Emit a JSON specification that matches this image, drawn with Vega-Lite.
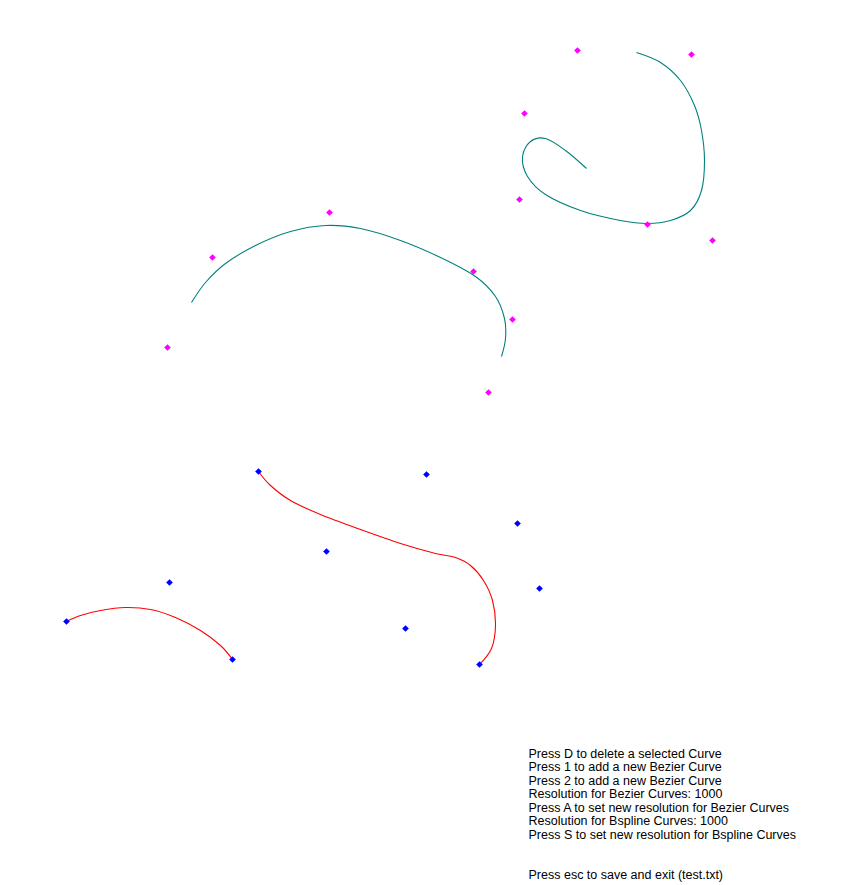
{
  "$schema": "https://vega.github.io/schema/vega-lite/v6.json",
  "autosize": {"type": "fit", "contains": "padding"},
  "width": 845,
  "height": 885,
  "padding": 0,
  "background": "white",
  "config": {"view": {"stroke": null}},
  "datasets": {
    "pts": [
      {"x": 577, "y": 50, "g": "top"}, {"x": 691, "y": 54, "g": "top"}, {"x": 524, "y": 113, "g": "top"},
      {"x": 519, "y": 199, "g": "top"}, {"x": 647, "y": 224, "g": "top"}, {"x": 712, "y": 240, "g": "top"},
      {"x": 329, "y": 212, "g": "top"}, {"x": 212, "y": 257, "g": "top"}, {"x": 473, "y": 271, "g": "top"},
      {"x": 512, "y": 319, "g": "top"}, {"x": 167, "y": 347, "g": "top"}, {"x": 488, "y": 392, "g": "top"},
      {"x": 258, "y": 471, "g": "bot"}, {"x": 426, "y": 474, "g": "bot"}, {"x": 517, "y": 523, "g": "bot"},
      {"x": 326, "y": 551, "g": "bot"}, {"x": 169, "y": 582, "g": "bot"}, {"x": 539, "y": 588, "g": "bot"},
      {"x": 66, "y": 621, "g": "bot"}, {"x": 405, "y": 628, "g": "bot"}, {"x": 232, "y": 659, "g": "bot"},
      {"x": 479, "y": 664, "g": "bot"}
    ],
    "curves": [
      {"c": "t1", "k": "spline", "o": 0, "x": 636, "y": 52}, {"c": "t1", "k": "spline", "o": 1, "x": 660, "y": 62},
      {"c": "t1", "k": "spline", "o": 2, "x": 680, "y": 80}, {"c": "t1", "k": "spline", "o": 3, "x": 694, "y": 105},
      {"c": "t1", "k": "spline", "o": 4, "x": 701, "y": 130}, {"c": "t1", "k": "spline", "o": 5, "x": 704, "y": 160},
      {"c": "t1", "k": "spline", "o": 6, "x": 701, "y": 190}, {"c": "t1", "k": "spline", "o": 7, "x": 690, "y": 210},
      {"c": "t1", "k": "spline", "o": 8, "x": 670, "y": 220}, {"c": "t1", "k": "spline", "o": 9, "x": 647, "y": 223},
      {"c": "t1", "k": "spline", "o": 10, "x": 620, "y": 220}, {"c": "t1", "k": "spline", "o": 11, "x": 580, "y": 210},
      {"c": "t1", "k": "spline", "o": 12, "x": 545, "y": 194}, {"c": "t1", "k": "spline", "o": 13, "x": 527, "y": 176},
      {"c": "t1", "k": "spline", "o": 14, "x": 522, "y": 156}, {"c": "t1", "k": "spline", "o": 15, "x": 530, "y": 141},
      {"c": "t1", "k": "spline", "o": 16, "x": 545, "y": 138}, {"c": "t1", "k": "spline", "o": 17, "x": 565, "y": 150},
      {"c": "t1", "k": "spline", "o": 18, "x": 586, "y": 168},
      {"c": "t2", "k": "spline", "o": 0, "x": 191, "y": 302}, {"c": "t2", "k": "spline", "o": 1, "x": 205, "y": 282},
      {"c": "t2", "k": "spline", "o": 2, "x": 225, "y": 263}, {"c": "t2", "k": "spline", "o": 3, "x": 255, "y": 245},
      {"c": "t2", "k": "spline", "o": 4, "x": 290, "y": 231}, {"c": "t2", "k": "spline", "o": 5, "x": 325, "y": 225},
      {"c": "t2", "k": "spline", "o": 6, "x": 360, "y": 228}, {"c": "t2", "k": "spline", "o": 7, "x": 400, "y": 240},
      {"c": "t2", "k": "spline", "o": 8, "x": 440, "y": 257}, {"c": "t2", "k": "spline", "o": 9, "x": 475, "y": 276},
      {"c": "t2", "k": "spline", "o": 10, "x": 495, "y": 296}, {"c": "t2", "k": "spline", "o": 11, "x": 504, "y": 318},
      {"c": "t2", "k": "spline", "o": 12, "x": 505, "y": 338}, {"c": "t2", "k": "spline", "o": 13, "x": 501, "y": 356},
      {"c": "r1", "k": "bezier", "o": 0, "x": 258, "y": 471}, {"c": "r1", "k": "bezier", "o": 1, "x": 270, "y": 485},
      {"c": "r1", "k": "bezier", "o": 2, "x": 290, "y": 500}, {"c": "r1", "k": "bezier", "o": 3, "x": 320, "y": 514},
      {"c": "r1", "k": "bezier", "o": 4, "x": 360, "y": 529}, {"c": "r1", "k": "bezier", "o": 5, "x": 400, "y": 543},
      {"c": "r1", "k": "bezier", "o": 6, "x": 435, "y": 553}, {"c": "r1", "k": "bezier", "o": 7, "x": 455, "y": 557},
      {"c": "r1", "k": "bezier", "o": 8, "x": 470, "y": 565}, {"c": "r1", "k": "bezier", "o": 9, "x": 483, "y": 580},
      {"c": "r1", "k": "bezier", "o": 10, "x": 492, "y": 600}, {"c": "r1", "k": "bezier", "o": 11, "x": 495, "y": 625},
      {"c": "r1", "k": "bezier", "o": 12, "x": 491, "y": 648}, {"c": "r1", "k": "bezier", "o": 13, "x": 479, "y": 664},
      {"c": "r2", "k": "bezier", "o": 0, "x": 66, "y": 621}, {"c": "r2", "k": "bezier", "o": 1, "x": 80, "y": 615},
      {"c": "r2", "k": "bezier", "o": 2, "x": 100, "y": 610}, {"c": "r2", "k": "bezier", "o": 3, "x": 125, "y": 607},
      {"c": "r2", "k": "bezier", "o": 4, "x": 150, "y": 609}, {"c": "r2", "k": "bezier", "o": 5, "x": 175, "y": 617},
      {"c": "r2", "k": "bezier", "o": 6, "x": 200, "y": 630}, {"c": "r2", "k": "bezier", "o": 7, "x": 220, "y": 645},
      {"c": "r2", "k": "bezier", "o": 8, "x": 232, "y": 659}
    ],
    "help": [
      {"x": 528, "y": 753, "t": "Press D to delete a selected Curve"},
      {"x": 528, "y": 766.5, "t": "Press 1 to add a new Bezier Curve"},
      {"x": 528, "y": 780, "t": "Press 2 to add a new Bezier Curve"},
      {"x": 528, "y": 793.5, "t": "Resolution for Bezier Curves: 1000"},
      {"x": 528, "y": 807, "t": "Press A to set new resolution for Bezier Curves"},
      {"x": 528, "y": 820.5, "t": "Resolution for Bspline Curves: 1000"},
      {"x": 528, "y": 834, "t": "Press S to set new resolution for Bspline Curves"},
      {"x": 528, "y": 874, "t": "Press esc to save and exit (test.txt)"}
    ]
  },
  "encoding": {
    "x": {"field": "x", "type": "quantitative", "scale": {"domain": [-0.5, 844.5], "nice": false, "zero": false}, "axis": null},
    "y": {"field": "y", "type": "quantitative", "scale": {"domain": [-0.5, 884.5], "reverse": true, "nice": false, "zero": false}, "axis": null}
  },
  "layer": [
    {
      "data": {"name": "curves"},
      "mark": {"type": "line", "strokeWidth": 1.1, "interpolate": "cardinal"},
      "encoding": {
        "detail": {"field": "c"},
        "order": {"field": "o", "type": "quantitative"},
        "color": {"field": "k", "type": "nominal", "scale": {"domain": ["spline", "bezier"], "range": ["#008080", "#ff0000"]}, "legend": null}
      }
    },
    {
      "data": {"name": "pts"},
      "mark": {"type": "point", "shape": "diamond", "filled": true, "size": 45, "opacity": 1},
      "encoding": {
        "fill": {"field": "g", "type": "nominal", "scale": {"domain": ["top", "bot"], "range": ["#ff00ff", "#0000ff"]}, "legend": null}
      }
    },
    {
      "data": {"name": "help"},
      "mark": {"type": "text", "align": "left", "baseline": "middle", "font": "Liberation Sans", "fontSize": 12.5, "color": "black"},
      "encoding": {"text": {"field": "t"}}
    }
  ]
}
